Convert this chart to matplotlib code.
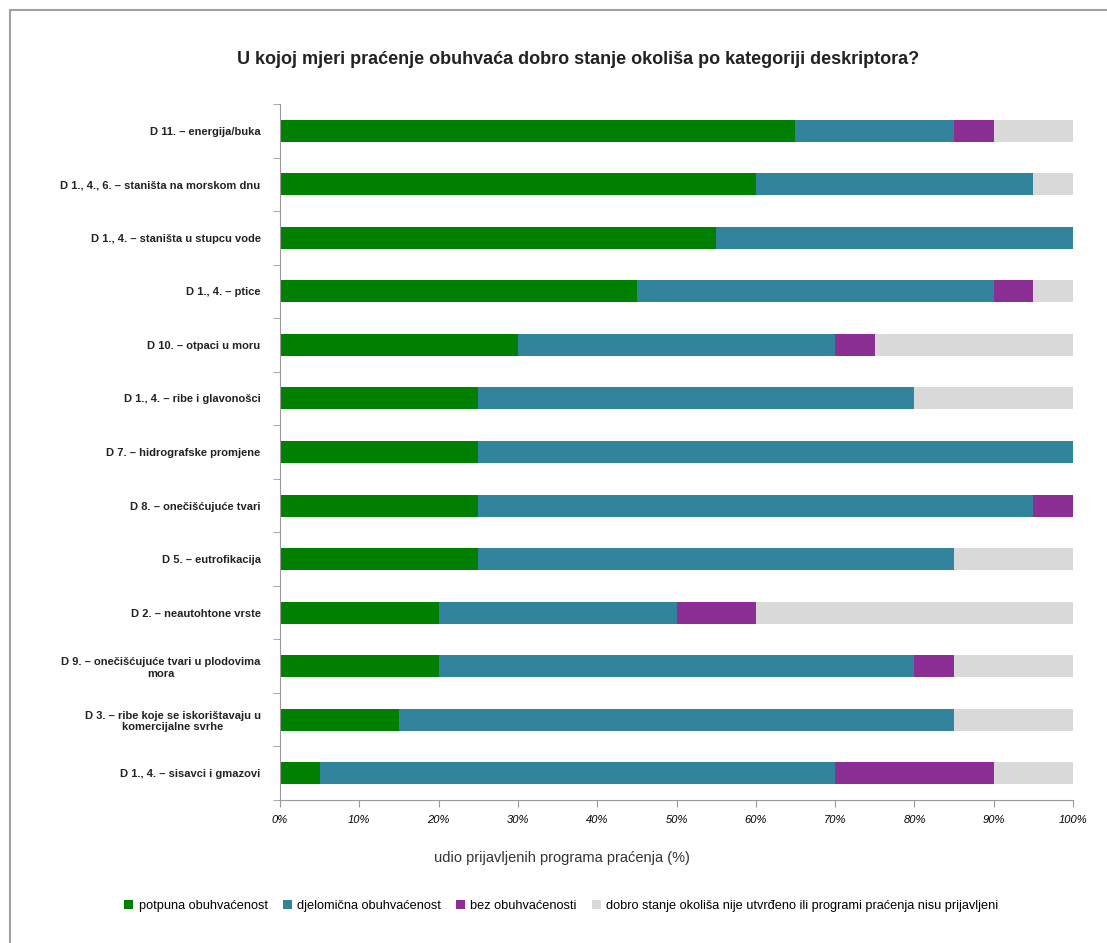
import matplotlib.pyplot as plt
import numpy as np
from matplotlib.patches import Rectangle

categories = [
    'D 11. – energija/buka',
    'D 1., 4., 6. – staništa na morskom dnu',
    'D 1., 4. – staništa u stupcu vode',
    'D 1., 4. – ptice',
    'D 10. – otpaci u moru',
    'D 1., 4. – ribe i glavonošci',
    'D 7. – hidrografske promjene',
    'D 8. – onečišćujuće tvari',
    'D 5. – eutrofikacija',
    'D 2. – neautohtone vrste',
    'D 9. – onečišćujuće tvari u plodovima\nmora',
    'D 3. – ribe koje se iskorištavaju u\nkomercijalne svrhe',
    'D 1., 4. – sisavci i gmazovi',
]
potpuna = [65, 60, 55, 45, 30, 25, 25, 25, 25, 20, 20, 15, 5]
djelomicna = [20, 35, 45, 45, 40, 55, 75, 70, 60, 30, 60, 70, 65]
bez = [5, 0, 0, 5, 5, 0, 0, 5, 0, 10, 5, 0, 20]
nije_utvrdeno = [10, 5, 0, 5, 25, 20, 0, 0, 15, 40, 15, 15, 10]

series_names = ['potpuna obuhvaćenost', 'djelomična obuhvaćenost', 'bez obuhvaćenosti',
                'dobro stanje okoliša nije utvrđeno ili programi praćenja nisu prijavljeni']
colors = ['#008000', '#31849B', '#8B2F95', '#D9D9D9']

plt.rcParams['font.family'] = ['Liberation Sans', 'DejaVu Sans']

fig = plt.figure(figsize=(11.07, 9.43), dpi=100)
ax = fig.add_axes([280 / 1107, 1 - 800 / 943, 793 / 1107, 696 / 943])

# okvir (odrezan desno i dolje)
fig.patches.append(Rectangle((10 / 1107, -0.05), 1.1, 1 - 10 / 943 + 0.05,
                             transform=fig.transFigure, fill=False,
                             edgecolor='#A0A0A0', linewidth=1.5))

y = np.arange(len(categories))
left = np.zeros(len(categories))
for vals, name, c in zip([potpuna, djelomicna, bez, nije_utvrdeno], series_names, colors):
    ax.barh(y, vals, left=left, height=0.41, color=c, label=name)
    left += np.array(vals)

ax.set_ylim(len(categories) - 0.5, -0.5)
ax.set_xlim(0, 100)
ax.set_yticks(y)
ax.set_yticklabels(categories, fontsize=8, fontweight='bold', color='#222222')
for t in ax.get_yticklabels():
    t.set_multialignment('center')
ax.tick_params(axis='y', length=0, pad=14)
ax.set_yticks(np.arange(-0.5, len(categories), 1), minor=True)
ax.tick_params(axis='y', which='minor', length=5, color='#999999', direction='out')

ax.set_xticks(np.arange(0, 101, 10))
ax.set_xticklabels([f'{v}%' for v in range(0, 101, 10)], fontsize=8, style='italic')
ax.tick_params(axis='x', length=5, color='#999999', direction='out', pad=6)

for s in ['top', 'right']:
    ax.spines[s].set_visible(False)
for s in ['left', 'bottom']:
    ax.spines[s].set_color('#999999')

ax.set_xlabel('udio prijavljenih programa praćenja (%)', fontsize=10.5, color='#333333')
ax.xaxis.set_label_coords(0.355, -0.073)

fig.text(0.522, 1 - 59 / 943, 'U kojoj mjeri praćenje obuhvaća dobro stanje okoliša po kategoriji deskriptora?',
         ha='center', va='center', fontsize=13, fontweight='bold', color='#222222')

leg = fig.legend(loc='center', bbox_to_anchor=(0.507, 1 - 906 / 943), ncol=4, frameon=False,
                 fontsize=9.2, handlelength=0.7, handleheight=0.7, handletextpad=0.4,
                 columnspacing=1.2)

fig.savefig('out.png', dpi=100)
